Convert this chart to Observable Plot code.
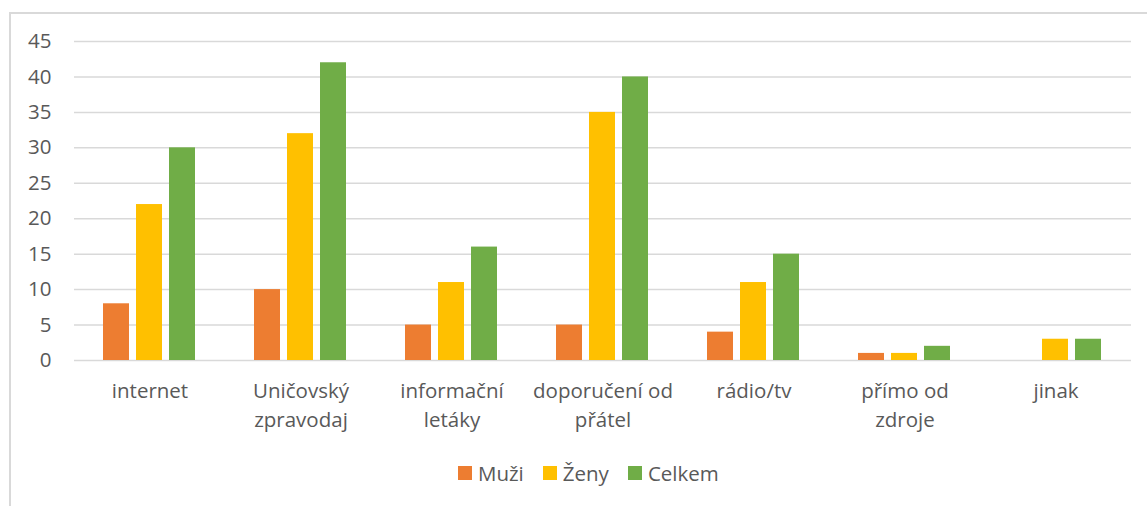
<!DOCTYPE html>
<html><head><meta charset="utf-8">
<script src="https://cdn.jsdelivr.net/npm/d3@7"></script>
<script src="https://cdn.jsdelivr.net/npm/@observablehq/plot@0.6"></script>
<style>
body{margin:0;background:#fff;font-family:"Open Sans",sans-serif;}
#frame{position:absolute;left:9px;top:12px;width:1200px;height:560px;border:2px solid #d9d9d9;box-sizing:border-box}
#chart{position:absolute;left:0;top:0}
#legend{position:absolute;top:459px;left:458px;display:flex;align-items:center;font-size:20.5px;color:#595959;white-space:nowrap}
#legend .item{display:flex;align-items:center;margin-right:19px}
#legend .sw{width:14px;height:14px;margin-right:6px}
</style></head>
<body>
<div id="frame"></div>
<div id="chart"></div>
<div id="legend"></div>
<script>
const categories = ["internet","Uničovský zpravodaj","informační letáky","doporučení od přátel","rádio/tv","přímo od zdroje","jinak"];
const tickLabels = ["internet","Uničovský\nzpravodaj","informační\nletáky","doporučení od\npřátel","rádio/tv","přímo od\nzdroje","jinak"];
const series = ["Muži","Ženy","Celkem"];
const colors = ["#ED7D31","#FFC000","#70AD47"];
const muzi   = [8,10,5,5,4,1,0];
const zeny   = [22,32,11,35,11,1,3];
const celkem = [30,42,16,40,15,2,3];
const yTicks = [0,5,10,15,20,25,30,35,40,45];

const values = [muzi, zeny, celkem];
const data = [];
categories.forEach((c,i) => series.forEach((s,j) => data.push({cat:c, series:s, value:values[j][i]})));
const labelOf = new Map(categories.map((c,i)=>[c,tickLabels[i]]));

const plot = Plot.plot({
  width: 1147, height: 440,
  marginLeft: 73, marginRight: 15, marginTop: 41, marginBottom: 80,
  style: {background: "none", fontFamily: "'Open Sans', sans-serif", fontSize: "20.5px", color: "#595959"},
  fx: {domain: categories, paddingInner: 0, paddingOuter: 0, label: null, axis: null},
  x: {domain: series, paddingInner: 0.209, paddingOuter: 0.863, axis: null, label: null},
  y: {domain: [0,45], ticks: yTicks, label: null, axis: null},
  color: {domain: series, range: colors},
  marks: [
    Plot.gridY(yTicks, {stroke: "#d9d9d9", strokeOpacity: 1, strokeWidth: 1.5}),
    Plot.axisY(yTicks, {tickSize: 0, tickPadding: 23, fontSize: 20.5, fill: "#595959", label: null}),
    Plot.barY(data, {fx: "cat", x: "series", y: "value", fill: "series"}),
    Plot.axisFx({anchor: "bottom", tickSize: 0, tickPadding: 17, fontSize: 20.5, fill: "#595959", lineHeight: 1.42, label: null, tickFormat: d => labelOf.get(d)})
  ]
});
document.getElementById("chart").appendChild(plot);

const lg = d3.select("#legend");
series.forEach((s,i) => {
  const it = lg.append("div").attr("class","item");
  it.append("div").attr("class","sw").style("background", colors[i]);
  it.append("span").text(s);
});
</script>
</body></html>
